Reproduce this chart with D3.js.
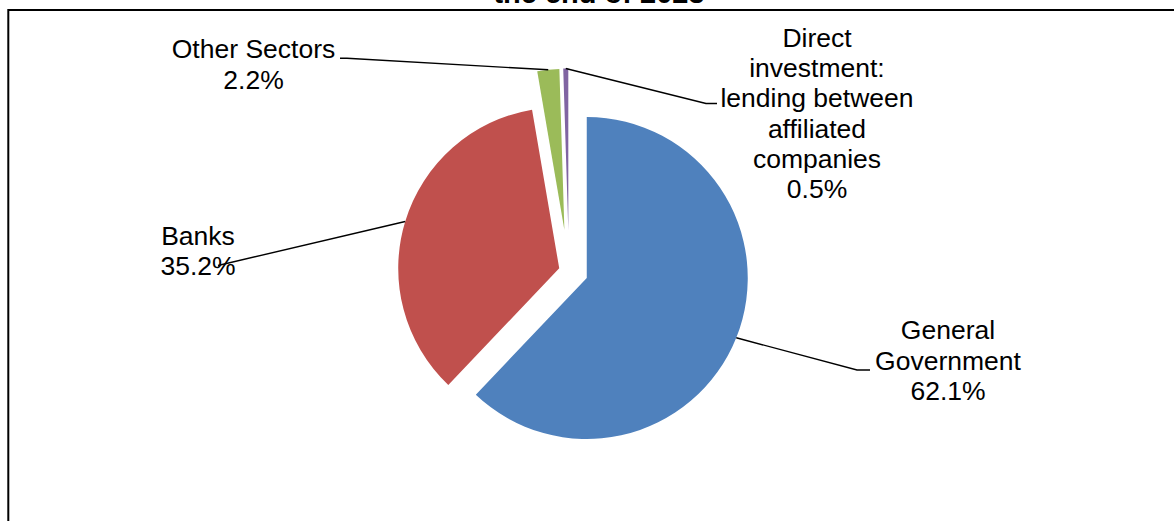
<!DOCTYPE html>
<html>
<head>
<meta charset="utf-8">
<script src="https://cdn.jsdelivr.net/npm/d3@7"></script>
<style>
  html, body { margin: 0; padding: 0; background: #fff; }
  svg { display: block; }
  text { font-family: "Liberation Sans", Arial, sans-serif; }
</style>
</head>
<body>
<svg id="chart" width="1174" height="521"></svg>
<script>
// ---- data ----
const categories = ["General Government", "Banks", "Other Sectors", "Direct investment: lending between affiliated companies"];
const values = [62.1, 35.2, 2.2, 0.5];
const labelLines = [["General", "Government"], ["Banks"], ["Other Sectors"], ["Direct", "investment:", "lending between", "affiliated", "companies"]];
const titleLines = ["the end of 2023"];
const colors = ["#4F81BD", "#C0504D", "#9BBB59", "#8064A2"];

// ---- layout / style ----
const W = 1174, H = 521;
const center = { x: 573.2, y: 272.6 };
const radius = 161;
const explodeDist = [14.6, 14.6, 43.5, 43.4];
const explodeAngleShift = [0, 0, -5.9, -5.6]; // degrees
const lineH = 30.3;
const labelLayout = [
  { x: 948, y: 339.3, path: [[857, 370], [870, 370]] },
  { x: 198, y: 245, path: [[218, 265.5]] },
  { x: 253.5, y: 58.3, path: [[347, 58.3], [340, 58.3]] },
  { x: 817, y: 46.7, path: [[706, 103.5], [717, 103.5]] }
];

const svg = d3.select("#chart");

// frame
svg.append("rect")
  .attr("x", 8.3).attr("y", 10)
  .attr("width", 1190).attr("height", 540)
  .attr("fill", "none").attr("stroke", "#000").attr("stroke-width", 2);

// title (only last line visible)
svg.append("g").selectAll("text").data(titleLines.slice().reverse()).join("text")
  .attr("x", 599).attr("y", (d, i) => 3.3 - i * 34)
  .attr("text-anchor", "middle")
  .attr("font-size", 29).attr("font-weight", "bold")
  .text(d => d);

const pie = d3.pie().sort(null).value(d => d)(values);
const arc = d3.arc().innerRadius(0).outerRadius(radius);
const fmt = d3.format(".1f");

function offset(d, i) {
  const a = (d.startAngle + d.endAngle) / 2 + explodeAngleShift[i] * Math.PI / 180;
  return [center.x + explodeDist[i] * Math.sin(a), center.y - explodeDist[i] * Math.cos(a)];
}

const slices = svg.append("g").selectAll("g").data(pie).join("g")
  .attr("transform", (d, i) => { const o = offset(d, i); return `translate(${o[0]},${o[1]})`; });
slices.append("path")
  .attr("d", arc)
  .attr("fill", (d, i) => colors[i]);

// leader lines
const line = d3.line();
svg.append("g").selectAll("path").data(pie).join("path")
  .attr("d", (d, i) => {
    const o = offset(d, i);
    const m = (d.startAngle + d.endAngle) / 2;
    const p0 = [o[0] + radius * Math.sin(m), o[1] - radius * Math.cos(m)];
    return line([p0, ...labelLayout[i].path]);
  })
  .attr("fill", "none").attr("stroke", "#000").attr("stroke-width", 1.4);

// labels
const labels = svg.append("g").selectAll("text").data(pie).join("text")
  .attr("text-anchor", "middle")
  .attr("font-size", 26.5)
  .attr("fill", "#000");
labels.each(function(d, i) {
  const lines = labelLines[i].concat([fmt(values[i]) + "%"]);
  d3.select(this).selectAll("tspan").data(lines).join("tspan")
    .attr("x", labelLayout[i].x)
    .attr("y", (t, k) => labelLayout[i].y + k * lineH)
    .text(t => t);
});
</script>
</body>
</html>
